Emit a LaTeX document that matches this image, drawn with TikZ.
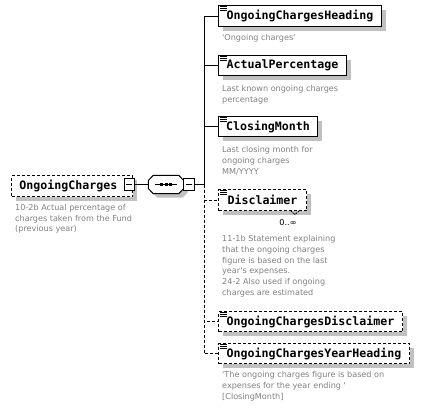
\documentclass[tikz,border=0pt]{standalone}
\usepackage{fontspec}
\setmainfont{DejaVu Sans}
\setmonofont{DejaVu Sans Mono}
\usetikzlibrary{shapes.misc,shadows,calc}
\definecolor{desc}{RGB}{128,128,128}
\definecolor{shad}{RGB}{192,192,192}
\begin{document}
\begin{tikzpicture}[x=1pt,y=-1pt,
  elem/.style={draw=black, line width=1pt, fill=white, inner sep=0pt, anchor=north west,
    minimum height=21pt, font=\ttfamily\bfseries\fontsize{11.6}{14}\selectfont,
    general shadow={fill=shad, shadow xshift=4pt, shadow yshift=-4pt}},
  opt/.style={elem, dash pattern=on 3pt off 2pt},
  desctext/.style={anchor=north west, inner sep=0pt, align=left, text=desc,
    font=\fontsize{8.1}{10.7}\selectfont},
  seqframe/.style={inner sep=0pt, minimum width=35pt, minimum height=18pt},
  octagon/.style={draw=black, line width=1pt, fill=white,
    general shadow={fill=shad, shadow xshift=4pt, shadow yshift=-4pt}},
  minusbox/.style={draw=black, line width=1pt, fill=white, inner sep=0pt,
    minimum width=10pt, minimum height=12pt,
    path picture={\draw[line width=1pt] ([xshift=-3pt]path picture bounding box.center) -- ([xshift=3pt]path picture bounding box.center);}},
  conn/.style={draw=black, line width=1pt},
  optconn/.style={conn, dash pattern=on 3pt off 2pt},
  icon/.style={draw=black, line width=0.8pt}
]
\useasboundingbox (0,0) rectangle (423,408);

% root
\node[opt, minimum width=121pt, minimum height=21pt, text width=105pt, align=left] (root) at (11,175) {OngoingCharges};
\node[minusbox] (m1) at (129,184.5) {};
\node[desctext] (rootdesc) at (15,204) {10-2b Actual percentage of\\charges taken from the Fund\\(previous year)};

% sequence compositor
\node[seqframe] (seq) at (166,184.5) {};
\path[octagon] ($(seq.west)+(0,-4)$) -- ($(seq.north west)+(5,0)$) -- ($(seq.north east)+(-5,0)$)
  -- ($(seq.east)+(0,-4)$) -- ($(seq.east)+(0,4)$) -- ($(seq.south east)+(-5,0)$)
  -- ($(seq.south west)+(5,0)$) -- ($(seq.west)+(0,4)$) -- cycle;
\draw[line width=1pt] ($(seq.center)+(-11,0)$) -- ($(seq.center)+(11,0)$);
\foreach \dx in {-4.5,0,4.5} \fill ($(seq.center)+(\dx-1.5,-1.5)$) rectangle ++(3,3);
\node[minusbox, minimum width=11pt, minimum height=12pt] (m2) at (189,184.5) {};
\coordinate (j) at (204,184.5);

% children
\node[elem, minimum width=163pt] (heading) at (218,5) {OngoingChargesHeading};
\node[desctext] (headingdesc) at (222,34.5) {\textquotesingle Ongoing charges\textquotesingle};

\node[elem, minimum width=128pt, minimum height=20pt] (actual) at (218,55) {ActualPercentage};
\node[desctext] (actualdesc) at (222,85.5) {Last known ongoing charges\\percentage};

\node[elem, minimum width=99pt, minimum height=20pt] (closing) at (218,116) {ClosingMonth};
\node[desctext] (closingdesc) at (222,146.5) {Last closing month for\\ongoing charges\\MM/YYYY};

\node[opt, minimum width=88pt] (disc) at (218,189) {Disclaimer};
\draw[line width=0.8pt, dash pattern=on 2pt off 1pt] ($(disc.south east)+(-16,0)$) -- ++(4,3.5) -- ++(4,-3.5);
\node[inner sep=0pt, font=\fontsize{8.1}{10.7}\selectfont] (disccard) at (288,223) {0..∞};
\node[desctext] (discdesc) at (222,235.5) {11-1b Statement explaining\\that the ongoing charges\\figure is based on the last\\year\textquotesingle s expenses.\\24-2 Also used if ongoing\\charges are estimated};

\node[opt, minimum width=184pt, minimum height=20pt] (ocdisc) at (218,311) {OngoingChargesDisclaimer};
\node[opt, minimum width=191pt, minimum height=20pt] (yearh) at (218,343) {OngoingChargesYearHeading};
\node[desctext] (yearhdesc) at (222,371.5) {\textquotesingle The ongoing charges figure is based on\\expenses for the year ending \textquotesingle\\{[}ClosingMonth{]}};

% icons
\foreach \n in {heading,actual,closing,disc,ocdisc,yearh} {
  \foreach \dy in {1.5,3.5,5.5}
    \draw[icon] ($(\n.north west)+(2,\dy)$) -- ++(6.5,0);
}

% connectors
\draw[conn] (m1.east) -- (seq.west);
\draw[conn] (m2.east) -- (j);
\draw[conn] (j) |- (heading.west);
\draw[conn] (j) |- (actual.west);
\draw[conn] (j) |- (closing.west);
\draw[optconn] (j) |- (disc.west);
\draw[optconn] (j) |- (ocdisc.west);
\draw[optconn] (j) |- (yearh.west);
\end{tikzpicture}
\end{document}
